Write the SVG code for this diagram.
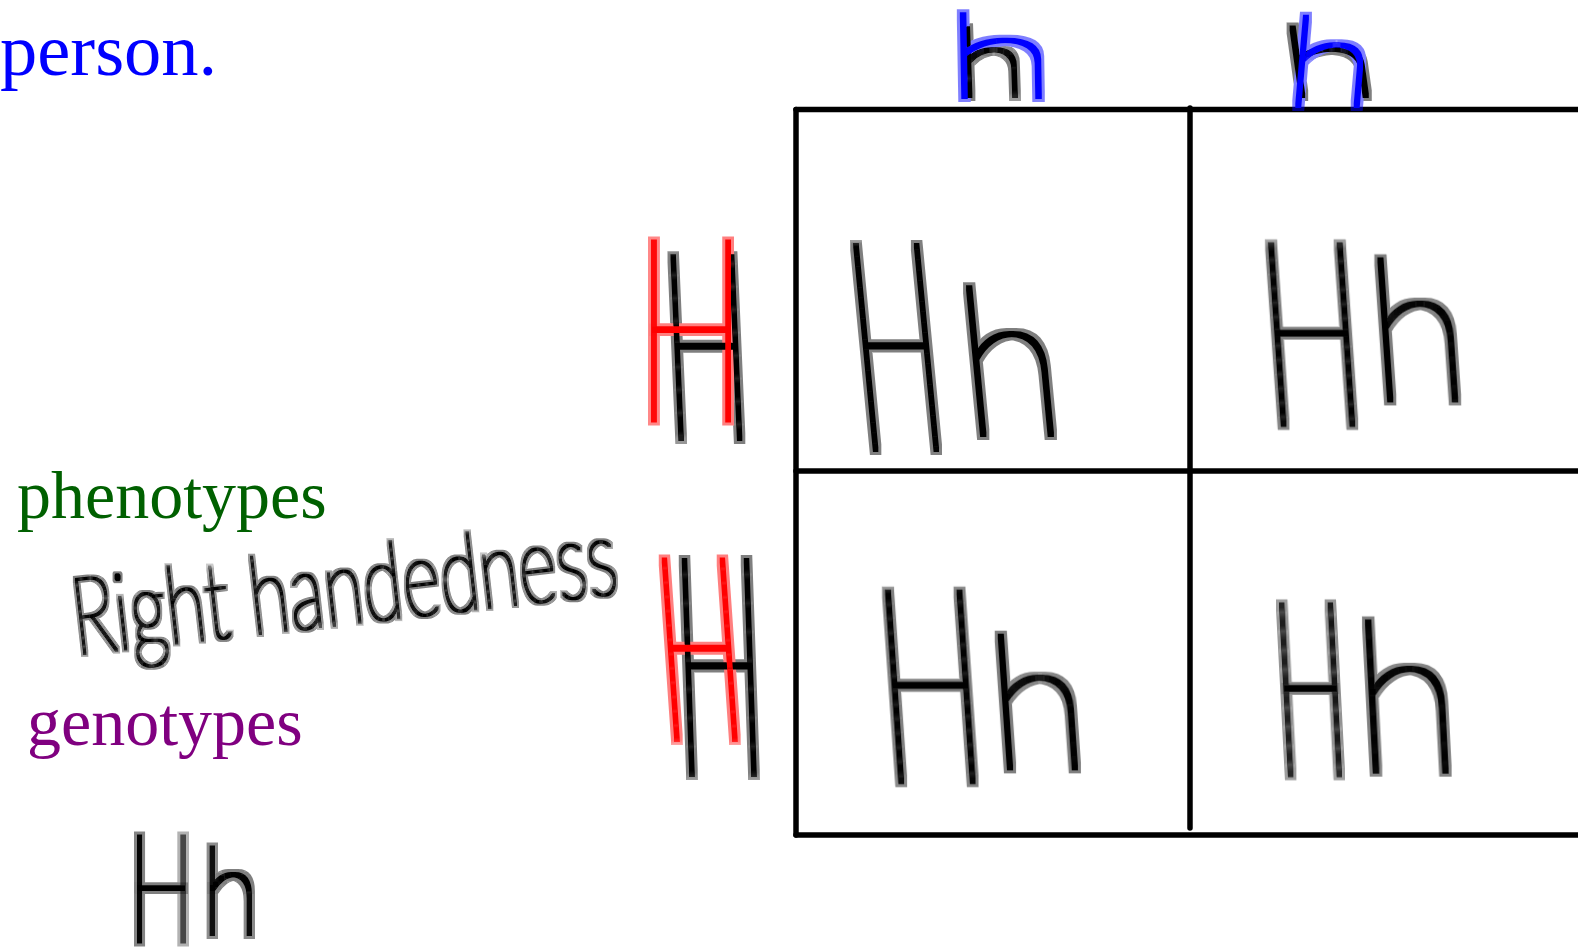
<svg xmlns="http://www.w3.org/2000/svg" width="1578" height="952" viewBox="0 0 1578 952">
<style>
.typed{font-family:"Liberation Serif","Times New Roman",serif;}
.hand{font-family:"Lato","Inter",sans-serif;font-weight:100;}
.grid line{stroke:#000;stroke-width:5.5;stroke-linecap:round;}
</style>
<defs>
<filter id="pen" x="-10%" y="-10%" width="120%" height="120%" color-interpolation-filters="sRGB">
<feMorphology in="SourceGraphic" operator="dilate" radius="4.6" result="h"/>
<feColorMatrix in="h" type="matrix" values="1 0 0 0 0  0 1 0 0 0  0 0 1 0 0  0 0 0 0.5 0" result="halo"/>
<feMorphology in="SourceGraphic" operator="dilate" radius="2.4" result="core"/>
<feMerge><feMergeNode in="halo"/><feMergeNode in="core"/></feMerge>
</filter>
<filter id="pen-thin" x="-5%" y="-10%" width="110%" height="120%" color-interpolation-filters="sRGB">
<feMorphology in="SourceGraphic" operator="dilate" radius="2.6" result="h"/>
<feColorMatrix in="h" type="matrix" values="1 0 0 0 0  0 1 0 0 0  0 0 1 0 0  0 0 0 0.5 0" result="halo"/>
<feMorphology in="SourceGraphic" operator="dilate" radius="0.7" result="core"/>
<feMerge><feMergeNode in="halo"/><feMergeNode in="core"/></feMerge>
</filter>
</defs>
<rect width="1578" height="952" fill="#fff"/>

<g id="typed-text" class="typed">
<text x="0" y="75" font-size="74.5" fill="#0000ff">person.</text>
<text x="17" y="518" font-size="68" fill="#006000">phenotypes</text>
<text x="27" y="745" font-size="68" fill="#800080">genotypes</text>
</g>

<g id="grid" class="grid">
<line x1="796" y1="109.5" x2="1580" y2="109.5"/>
<line x1="796" y1="109.5" x2="796" y2="835"/>
<line x1="796" y1="835" x2="1580" y2="835"/>
<line x1="1190" y1="108" x2="1190" y2="828"/>
<line x1="796" y1="471" x2="1580" y2="471"/>
</g>

<g id="col-headers" class="hand" filter="url(#pen)">
<text fill="#000" transform="translate(0,96) skewX(2)"><tspan x="957" font-size="94" textLength="70" lengthAdjust="spacingAndGlyphs">h</tspan></text>
<text fill="#0000ff" transform="translate(0,97) skewX(1)"><tspan x="944" font-size="115" textLength="114" lengthAdjust="spacingAndGlyphs">h</tspan></text>
<text fill="#000" transform="translate(0,96) skewX(8)"><tspan x="1284.5" font-size="95" textLength="98" lengthAdjust="spacingAndGlyphs">h</tspan></text>
<text fill="#0000ff" transform="translate(0,106) skewX(-5)"><tspan x="1282" font-size="124" textLength="90" lengthAdjust="spacingAndGlyphs">h</tspan></text>
</g>

<g id="row-headers" class="hand" filter="url(#pen)">
<text fill="#000" transform="translate(0,439) skewX(2.5)"><tspan x="667" font-size="261" textLength="86.8" lengthAdjust="spacingAndGlyphs">H</tspan></text>
<text fill="#ff0000" transform="translate(0,420)"><tspan x="636" font-size="255" textLength="110" lengthAdjust="spacingAndGlyphs">H</tspan></text>
<text fill="#000" transform="translate(0,775) skewX(2)"><tspan x="677" font-size="307" textLength="92" lengthAdjust="spacingAndGlyphs">H</tspan></text>
<text fill="#ff0000" transform="translate(0,740) skewX(4)"><tspan x="663" font-size="258" textLength="86" lengthAdjust="spacingAndGlyphs">H</tspan></text>
</g>

<g id="cells" class="hand" filter="url(#pen)" fill="#000">
<text id="cell-tl" transform="translate(0,450) skewX(5.5)"><tspan x="861" y="0" font-size="293" textLength="90" lengthAdjust="spacingAndGlyphs">H</tspan><tspan x="966" y="-15" font-size="205" textLength="104" lengthAdjust="spacingAndGlyphs">h</tspan></text>
<text id="cell-tr" transform="translate(0,425) skewX(4)"><tspan x="1267" y="0" font-size="258" textLength="102" lengthAdjust="spacingAndGlyphs">H</tspan><tspan x="1374" y="-25" font-size="196" textLength="99.8" lengthAdjust="spacingAndGlyphs">h</tspan></text>
<text id="cell-bl" transform="translate(0,782) skewX(4)"><tspan x="884" y="0" font-size="272" textLength="106" lengthAdjust="spacingAndGlyphs">H</tspan><tspan x="993" y="-14" font-size="184" textLength="99.8" lengthAdjust="spacingAndGlyphs">h</tspan></text>
<text id="cell-br" transform="translate(0,776) skewX(3)"><tspan x="1279" y="0" font-size="244" textLength="72" lengthAdjust="spacingAndGlyphs">H</tspan><tspan x="1357" y="-4" font-size="209" textLength="106.9" lengthAdjust="spacingAndGlyphs">h</tspan></text>
</g>

<g id="phenotype-value" class="hand" filter="url(#pen-thin)" fill="#000">
<text transform="translate(76,655) rotate(-6.5)" x="0" y="0" font-size="108" textLength="548" lengthAdjust="spacingAndGlyphs">Right handedness</text>
</g>

<g id="genotype-value" class="hand" filter="url(#pen)" fill="#000">
<text transform="translate(0,942)"><tspan x="129" y="0" font-size="150" textLength="64.7" lengthAdjust="spacingAndGlyphs">H</tspan><tspan x="202" y="-8" font-size="120" textLength="57" lengthAdjust="spacingAndGlyphs">h</tspan></text>
</g>
</svg>
